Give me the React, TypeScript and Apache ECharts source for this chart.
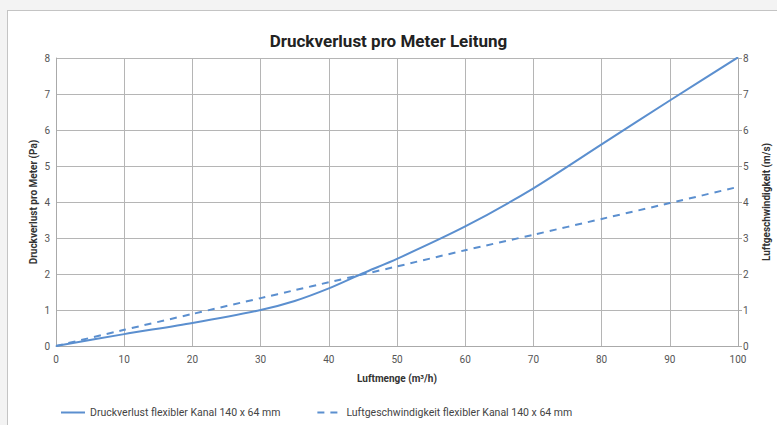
import React, { useEffect, useRef } from "react";
import * as echarts from "echarts";

const airflow = [0, 10, 20, 30, 35, 40, 45, 50, 60, 70, 80, 90, 100];
const pressureLoss = [0, 0.33, 0.64, 1.0, 1.25, 1.6, 2.02, 2.42, 3.32, 4.38, 5.6, 6.82, 8.02];
const airVelocity = [0, 0.45, 0.89, 1.33, 1.55, 1.77, 1.99, 2.21, 2.66, 3.09, 3.53, 3.97, 4.42];
const seriesNames = [
  "Druckverlust flexibler Kanal 140 x 64 mm",
  "Luftgeschwindigkeit flexibler Kanal 140 x 64 mm",
];

const FONT = "Roboto, 'Noto Sans', sans-serif";
const LINE = "#5b8fcf";

export default function App() {
  const ref = useRef<HTMLDivElement>(null);
  useEffect(() => {
    if (!ref.current) return;
    const chart = echarts.init(ref.current, null, { renderer: "svg" });
    const axisLabel = { color: "#555", fontSize: 10, fontFamily: FONT };
    const nameStyle = { color: "#333", fontSize: 10, fontWeight: "bold" as const, fontFamily: FONT };
    chart.setOption({
      animation: false,
      title: {
        text: "Druckverlust pro Meter Leitung",
        left: "center",
        top: 27,
        textStyle: { fontSize: 17, fontWeight: "bold", color: "#222", fontFamily: FONT },
      },
      grid: { left: 56, right: 39, top: 58, bottom: 79, outerBoundsMode: "none", containLabel: false },
      legend: {
        left: 55,
        top: 402,
        itemWidth: 24,
        itemHeight: 10,
        itemGap: 36,
        itemStyle: { opacity: 0 },
        textStyle: { color: "#444", fontSize: 10.5, fontFamily: FONT },
        data: seriesNames,
      },
      xAxis: {
        type: "value",
        min: 0,
        max: 100,
        interval: 10,
        name: "Luftmenge (m³/h)",
        nameLocation: "middle",
        nameGap: 27,
        nameMoveOverlap: false,
        nameTextStyle: nameStyle,
        axisLine: { show: true, lineStyle: { color: "#aaa" } },
        axisTick: { show: false },
        axisLabel: { ...axisLabel, margin: 8 },
        splitLine: { show: true, lineStyle: { color: "#b5b5b5" } },
      },
      yAxis: [
        {
          type: "value",
          min: 0,
          max: 8,
          interval: 1,
          name: "Druckverlust pro Meter (Pa)",
          nameLocation: "middle",
          nameGap: 18,
          nameMoveOverlap: false,
          nameTextStyle: nameStyle,
          axisLine: { show: true, lineStyle: { color: "#aaa" } },
          axisTick: { show: false },
          axisLabel: { ...axisLabel, margin: 6 },
          splitLine: { show: true, lineStyle: { color: "#b5b5b5" } },
        },
        {
          type: "value",
          min: 0,
          max: 8,
          interval: 1,
          position: "right",
          name: "Luftgeschwindigkeit (m/s)",
          nameLocation: "middle",
          nameGap: 23,
          nameRotate: 90,
          nameMoveOverlap: false,
          nameTextStyle: nameStyle,
          axisLine: { show: true, lineStyle: { color: "#aaa" } },
          axisTick: { show: true, length: 4, lineStyle: { color: "#aaa" } },
          axisLabel: { ...axisLabel, margin: 5 },
          splitLine: { show: false },
        },
      ],
      series: [
        {
          name: seriesNames[0],
          type: "line",
          smooth: 0.25,
          showSymbol: false,
          symbol: "none",
          yAxisIndex: 0,
          lineStyle: { color: LINE, width: 2 },
          itemStyle: { color: LINE },
          data: airflow.map((x, i) => [x, pressureLoss[i]]),
        },
        {
          name: seriesNames[1],
          type: "line",
          smooth: 0.2,
          showSymbol: false,
          symbol: "none",
          yAxisIndex: 1,
          lineStyle: { color: LINE, width: 2, type: [7, 6] },
          itemStyle: { color: LINE },
          data: airflow.map((x, i) => [x, airVelocity[i]]),
        },
      ],
    });
    return () => chart.dispose();
  }, []);

  return (
    <div style={{ position: "fixed", left: 0, top: 0, width: 777, height: 425, background: "#f3f3f3", overflow: "hidden" }}>
      <div
        style={{
          position: "absolute",
          left: 7,
          top: 10,
          width: 790,
          height: 430,
          background: "#fff",
          border: "1px solid #c4c4c4",
        }}
      />
      <div ref={ref} style={{ position: "absolute", left: 0, top: 0, width: 777, height: 425 }} />
    </div>
  );
}
